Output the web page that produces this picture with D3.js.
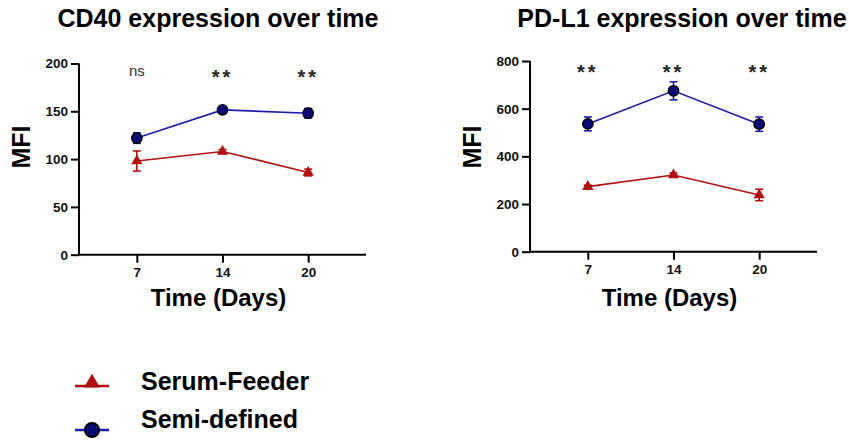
<!DOCTYPE html>
<html>
<head>
<meta charset="utf-8">
<script src="https://cdn.jsdelivr.net/npm/d3@7"></script>
<style>
  body { margin: 0; background: #fff; }
  svg { display: block; font-family: Arial, 'Liberation Sans', sans-serif; }
</style>
</head>
<body>
<svg width="849" height="441"></svg>
<script>
const days = ['7', '14', '20'];

const cd40Serum = [98, 108, 86];
const cd40SerumErr = [10.5, 2, 3.5];
const cd40Semi = [122, 151.5, 148];
const cd40SemiErr = [5.5, 2, 5];
const cd40Sig = ['ns', '**', '**'];
const cd40Ticks = [0, 50, 100, 150, 200];

const pdl1Serum = [273, 322, 238];
const pdl1SerumErr = [6, 8, 24];
const pdl1Semi = [536, 675, 535];
const pdl1SemiErr = [29, 38, 30];
const pdl1Sig = ['**', '**', '**'];
const pdl1Ticks = [0, 200, 400, 600, 800];

const seriesNames = ['Serum-Feeder', 'Semi-defined'];

const RED = '#b01010';
const BLUE = '#1c1ca6';
const NAVY = '#0b0b78';

const svg = d3.select('svg');

const drawPanel = (opt) => {
  const x = d3.scalePoint().domain(days).range([opt.x0, opt.x1]).padding(0.675);
  const y = d3.scaleLinear().domain([0, opt.ticks[opt.ticks.length - 1]]).range([opt.yBot, opt.yTop]);
  const g = svg.append('g');

  // title
  g.append('text')
    .attr('x', opt.titleX)
    .attr('y', 27)
    .attr('text-anchor', 'middle')
    .style('font-size', '25px')
    .style('font-weight', 'bold')
    .text(opt.title);

  // y axis
  const yAxis = g.append('g')
    .attr('transform', `translate(${opt.x0},0)`)
    .call(d3.axisLeft(y).tickValues(opt.ticks).tickSize(8).tickPadding(3));
  // x axis
  const xAxis = g.append('g')
    .attr('transform', `translate(0,${opt.yBot})`)
    .call(d3.axisBottom(x).tickSize(8).tickPadding(5));
  [yAxis, xAxis].forEach((a) => {
    a.select('.domain').attr('stroke', '#000').attr('stroke-width', 2);
    a.selectAll('.tick line').attr('stroke', '#000').attr('stroke-width', 2);
    a.selectAll('.tick text')
      .attr('fill', '#111')
      .style('font-size', '13.5px')
      .style('font-weight', 'bold')
      .style('font-family', 'Arial, Liberation Sans, sans-serif');
  });
  xAxis.select('.domain').attr('d', `M${opt.x0},0H${opt.x1}`);
  yAxis.select('.domain').attr('d', `M-0,${opt.yTop}V${opt.yBot}`);

  // axis titles
  g.append('text')
    .attr('x', (opt.x0 + opt.x1) / 2 - 4)
    .attr('y', 306)
    .attr('text-anchor', 'middle')
    .style('font-size', '24px')
    .style('font-weight', 'bold')
    .text('Time (Days)');
  g.append('text')
    .attr('transform', `translate(${opt.x0 - 49},147) rotate(-90)`)
    .attr('text-anchor', 'middle')
    .style('font-size', '25px')
    .style('font-weight', 'bold')
    .text('MFI');

  const series = [
    { vals: opt.serum, errs: opt.serumErr, color: RED, shape: 'tri' },
    { vals: opt.semi, errs: opt.semiErr, color: BLUE, shape: 'circ' }
  ];

  series.forEach((s) => {
    const pts = days.map((d, i) => ({ d, v: s.vals[i], e: s.errs[i] }));
    g.append('path')
      .datum(pts)
      .attr('fill', 'none')
      .attr('stroke', s.color)
      .attr('stroke-width', 1.6)
      .attr('d', d3.line().x(p => x(p.d)).y(p => y(p.v)));

    // error bars
    const eb = g.selectAll(null).data(pts).enter().append('g').attr('stroke', s.color).attr('stroke-width', 1.6);
    eb.append('line')
      .attr('x1', p => x(p.d)).attr('x2', p => x(p.d))
      .attr('y1', p => y(p.v - p.e)).attr('y2', p => y(p.v + p.e));
    eb.append('line')
      .attr('x1', p => x(p.d) - 4).attr('x2', p => x(p.d) + 4)
      .attr('y1', p => y(p.v + p.e)).attr('y2', p => y(p.v + p.e));
    eb.append('line')
      .attr('x1', p => x(p.d) - 4).attr('x2', p => x(p.d) + 4)
      .attr('y1', p => y(p.v - p.e)).attr('y2', p => y(p.v - p.e));

    if (s.shape === 'circ') {
      g.selectAll(null).data(pts).enter().append('circle')
        .attr('cx', p => x(p.d)).attr('cy', p => y(p.v))
        .attr('r', 5.2)
        .attr('fill', NAVY)
        .attr('stroke', '#000')
        .attr('stroke-width', 1.4);
    } else {
      g.selectAll(null).data(pts).enter().append('path')
        .attr('transform', p => `translate(${x(p.d)},${y(p.v)})`)
        .attr('d', d3.symbol().type(d3.symbolTriangle).size(55))
        .attr('fill', RED);
    }
  });

  // significance labels
  g.selectAll(null).data(opt.sig).enter().append('text')
    .attr('x', (s, i) => x(days[i]))
    .attr('y', s => (s === 'ns' ? opt.sigY - 8 : opt.sigY))
    .attr('text-anchor', 'middle')
    .attr('fill', s => (s === 'ns' ? '#333' : '#222'))
    .style('font-size', s => (s === 'ns' ? '15px' : '20px'))
    .style('font-weight', s => (s === 'ns' ? 'normal' : 'bold'))
    .style('letter-spacing', s => (s === 'ns' ? '0px' : '3px'))
    .text(s => s);
};

drawPanel({
  title: 'CD40 expression over time',
  titleX: 218,
  x0: 79, x1: 366, yTop: 63.5, yBot: 254.7,
  ticks: cd40Ticks,
  serum: cd40Serum, serumErr: cd40SerumErr,
  semi: cd40Semi, semiErr: cd40SemiErr,
  sig: cd40Sig, sigY: 84
});

drawPanel({
  title: 'PD-L1 expression over time',
  titleX: 682,
  x0: 530, x1: 817, yTop: 61, yBot: 251.7,
  ticks: pdl1Ticks,
  serum: pdl1Serum, serumErr: pdl1SerumErr,
  semi: pdl1Semi, semiErr: pdl1SemiErr,
  sig: pdl1Sig, sigY: 79
});

// legend
const legend = svg.append('g');
const legendRows = [
  { name: seriesNames[0], color: RED, shape: 'tri', lineY: 386, textY: 390 },
  { name: seriesNames[1], color: BLUE, shape: 'circ', lineY: 430, textY: 428 }
];
legendRows.forEach((r) => {
  legend.append('line')
    .attr('x1', 75).attr('x2', 109)
    .attr('y1', r.lineY).attr('y2', r.lineY)
    .attr('stroke', r.color)
    .attr('stroke-width', 2.5);
  if (r.shape === 'tri') {
    legend.append('path')
      .attr('transform', `translate(92,${r.lineY - 3})`)
      .attr('d', d3.symbol().type(d3.symbolTriangle).size(110))
      .attr('fill', r.color);
  } else {
    legend.append('circle')
      .attr('cx', 92).attr('cy', r.lineY)
      .attr('r', 7)
      .attr('fill', NAVY)
      .attr('stroke', '#000')
      .attr('stroke-width', 2);
  }
  legend.append('text')
    .attr('x', 141)
    .attr('y', r.textY)
    .style('font-size', '25px')
    .style('font-weight', 'bold')
    .text(r.name);
});
</script>
</body>
</html>
